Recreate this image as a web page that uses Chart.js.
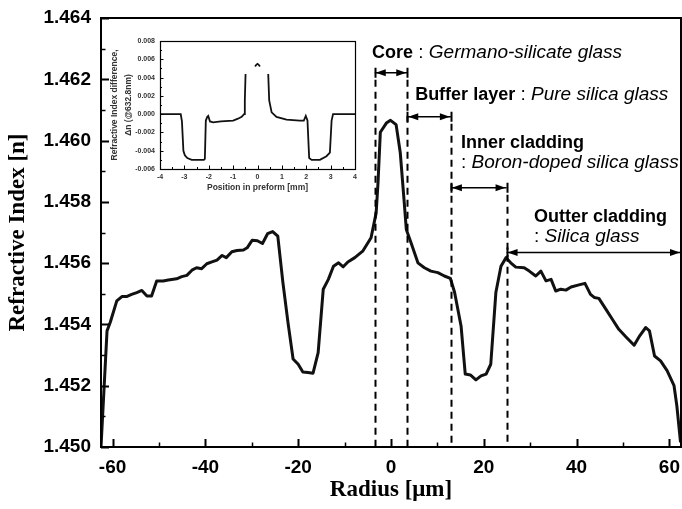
<!DOCTYPE html>
<html>
<head>
<meta charset="utf-8">
<script src="https://cdn.jsdelivr.net/npm/chart.js@4.4.1/dist/chart.umd.min.js"></script>
<style>
  html, body { margin: 0; padding: 0; background: #fff; }
  #wrap { position: relative; width: 682px; height: 509px; overflow: hidden; }
  #main { position: absolute; left: 0; top: 0; }
  #inset { position: absolute; left: 100px; top: 30px; }
</style>
</head>
<body>
<div id="wrap">
  <canvas id="main" width="682" height="509"></canvas>
  <canvas id="inset" width="262" height="166"></canvas>
</div>
<script>
// Refractive-index profile across the fibre (radius in µm)
const radius = [
  -62.5, -61.2, -60.5, -59.1, -58.0, -57.0, -55.9, -54.8, -53.7, -52.6, -51.6, -50.5,
  -49.1, -48.0, -46.2, -45.1, -44.0, -42.9, -41.9, -40.8, -39.7, -38.6, -37.5, -36.4,
  -35.5, -34.3, -33.2, -31.8, -31.0, -29.9, -28.8, -27.7, -26.6, -25.5, -24.4, -23.3,
  -22.2, -21.1, -20.0, -19.0, -17.9, -16.8, -15.7, -14.6, -13.5, -12.4, -11.3, -10.3,
  -9.3, -7.8, -6.1, -4.3, -3.2, -2.8, -2.3, -1.0, -0.1, 1.1, 2.0, 2.8, 3.3, 4.3, 5.8,
  7.2, 8.6, 10.1, 11.5, 12.8, 13.7, 15.1, 16.0, 17.1, 18.3, 19.4, 20.5, 21.5, 22.6,
  23.7, 24.8, 25.8, 26.9, 28.7, 29.8, 31.2, 32.3, 33.4, 34.5, 35.5, 36.6, 37.7, 38.8,
  40.5, 41.8, 43.0, 43.8, 44.8, 46.3, 47.7, 49.1, 50.6, 52.4, 53.6, 54.9, 55.7, 56.8,
  58.1, 59.5, 61.0, 61.6, 62.4
];
const refIndex = [
  1.4500, 1.45379, 1.45407, 1.45477, 1.45491, 1.45491, 1.45498, 1.45504, 1.45511, 1.45493, 1.45493, 1.45542,
  1.45542, 1.45545, 1.45549, 1.45556, 1.45560, 1.45577, 1.45585, 1.45582, 1.45598, 1.45604, 1.45610, 1.45625,
  1.45618, 1.45637, 1.45641, 1.45643, 1.45650, 1.45675, 1.45673, 1.45664, 1.45696, 1.45703, 1.45688, 1.45537,
  1.45406, 1.45287, 1.45270, 1.45245, 1.45243, 1.45241, 1.45308, 1.45515, 1.45547, 1.45590, 1.45601, 1.45588,
  1.45604, 1.45618, 1.45639, 1.45683, 1.45764, 1.45862, 1.46027, 1.46057, 1.46066, 1.46052, 1.45960, 1.45808, 1.45710, 1.45667, 1.45601,
  1.45585, 1.45574, 1.45569, 1.45558, 1.45550, 1.45505, 1.45395, 1.45238, 1.45235, 1.45219, 1.45232, 1.45238, 1.45270, 1.45504,
  1.45590, 1.45618, 1.45601, 1.45587, 1.45585, 1.45574, 1.45558, 1.45574, 1.45542, 1.45547, 1.45509, 1.45515, 1.45512, 1.45522,
  1.45529, 1.45534, 1.45498, 1.45488, 1.45485, 1.45450, 1.45417, 1.45384, 1.45360, 1.45332, 1.45363, 1.45390, 1.45379, 1.45297,
  1.45281, 1.45249, 1.45200, 1.45135, 1.45015
];
const radiusTicks = [-60, -40, -20, 0, 20, 40, 60];
const indexTicks = [1.450, 1.452, 1.454, 1.456, 1.458, 1.460, 1.462, 1.464];

// Fibre layers: boundaries in µm and their descriptions
const layerNames = ['Core', 'Buffer layer', 'Inner cladding', 'Outter cladding'];
const layerGlass = ['Germano-silicate glass', 'Pure silica glass', 'Boron-doped silica glass', 'Silica glass'];
const layerFrom = [-3.5, 3.5, 12.9, 24.9];
const layerTo = [3.5, 12.9, 24.9, 62.5];

// Preform index-difference profile (position in mm); null marks a break in the trace
const preformPos = [
  -4.0, -3.5, -3.15, -3.1, -3.04, -2.98, -2.88, -2.7, -2.4, -2.2, -2.16, -2.12, -2.06, -2.02, -1.95,
  -1.82, -1.5, -1.0, -0.8, -0.65, -0.55, -0.52, -0.49, -0.47,
  -0.1, -0.05, 0.0, 0.05, 0.1,
  0.42, 0.44, 0.48, 0.58, 0.78, 1.19, 1.73, 1.9, 1.98, 2.05, 2.12, 2.22, 2.56, 2.83, 2.97, 3.04, 3.1, 3.5, 4.0
];
const preformDn = [
  0.0000, 0.0000, 0.0000, -0.0008, -0.0040, -0.0045, -0.0048, -0.0050, -0.0050, -0.0050, -0.0049, -0.0007, -0.0003, -0.0002, -0.0008,
  -0.0009, -0.0008, -0.0007, -0.0005, -0.0003, 0.0000, 0.0015, 0.0044, null,
  0.0052, 0.0054, 0.0055, 0.0054, 0.0052,
  null, 0.0044, 0.0015, 0.0002, -0.0003, -0.0006, -0.0007, -0.0007, -0.0002, -0.0007, -0.0048, -0.0050, -0.0050, -0.0046, -0.0042, -0.0007, 0.0000, 0.0000, 0.0000
];
const preformPosTicks = [-4, -3, -2, -1, 0, 1, 2, 3, 4];
const preformDnTicks = [-0.006, -0.004, -0.002, 0.000, 0.002, 0.004, 0.006, 0.008];

const SANS = "'Liberation Sans', Arial, Helvetica, sans-serif";
const SERIF = "'Liberation Serif', 'Times New Roman', serif";

// Arrow levels and label anchors for the layer annotations (axis units)
const layerArrowLevel = [1.46221, 1.46078, 1.45846, 1.45635];
const layerTextAnchor = [
  { x: -4.1, y: 1.46270, twoLines: false },
  { x: 5.2, y: 1.46132, twoLines: false },
  { x: 15.1, y: 1.45976, twoLines: true },
  { x: 30.8, y: 1.45734, twoLines: true }
];

function drawTicks(ctx, scale, values, len, horizontal, area) {
  ctx.beginPath();
  values.forEach(v => {
    const p = Math.round(scale.getPixelForValue(v)) + 0.5;
    if (horizontal) {
      ctx.moveTo(p, area.bottom);
      ctx.lineTo(p, area.bottom - len);
    } else {
      ctx.moveTo(area.left, p);
      ctx.lineTo(area.left + len, p);
    }
  });
  ctx.stroke();
}

function halfSteps(ticks) {
  const out = [];
  for (let i = 0; i < ticks.length - 1; i++) out.push((ticks[i] + ticks[i + 1]) / 2);
  return out;
}

function arrowHead(ctx, x, y, dir) {
  ctx.beginPath();
  ctx.moveTo(x, y);
  ctx.lineTo(x - dir * 10, y - 3.5);
  ctx.lineTo(x - dir * 10, y + 3.5);
  ctx.closePath();
  ctx.fill();
}

function drawRuns(ctx, x, y, runs) {
  let cx = x;
  runs.forEach(r => {
    ctx.font = r.font;
    ctx.fillText(r.text, cx, y);
    cx += ctx.measureText(r.text).width;
  });
}

// keep the plot box fixed: no extra room for overhanging edge labels
function noEdgePadding(s) {
  s.paddingLeft = 0; s.paddingRight = 0; s.paddingTop = 0; s.paddingBottom = 0;
}

const mainDecor = {
  id: 'mainDecor',
  afterDraw(chart) {
    const { ctx, chartArea: a, scales: { x, y } } = chart;
    ctx.save();
    ctx.strokeStyle = '#000';
    ctx.fillStyle = '#000';

    // inward tick marks
    ctx.lineWidth = 2;
    drawTicks(ctx, x, radiusTicks, 8, true, a);
    drawTicks(ctx, y, indexTicks, 8, false, a);
    ctx.lineWidth = 1.5;
    drawTicks(ctx, x, halfSteps(radiusTicks), 4.5, true, a);
    drawTicks(ctx, y, halfSteps(indexTicks), 4.5, false, a);

    // layer boundaries (dashed) and span arrows
    const seen = new Set();
    layerFrom.forEach((from, i) => {
      const yA = y.getPixelForValue(layerArrowLevel[i]);
      const x1 = x.getPixelForValue(from);
      const x2 = Math.min(x.getPixelForValue(layerTo[i]), a.right);
      [from, layerTo[i]].forEach(b => {
        if (seen.has(b) || b >= layerTo[layerTo.length - 1]) return;
        seen.add(b);
        const px = Math.round(x.getPixelForValue(b)) + 0.5;
        ctx.save();
        ctx.lineWidth = 2;
        ctx.setLineDash([7, 5]);
        ctx.beginPath();
        ctx.moveTo(px, yA + 7);
        ctx.lineTo(px, a.bottom);
        ctx.stroke();
        ctx.restore();
      });
      ctx.lineWidth = 1.5;
      ctx.beginPath();
      ctx.moveTo(x1, yA);
      ctx.lineTo(x2, yA);
      ctx.stroke();
      ctx.lineWidth = 2;
      ctx.beginPath();
      ctx.moveTo(Math.round(x1) + 0.5, yA - 5);
      ctx.lineTo(Math.round(x1) + 0.5, yA + 5);
      if (i < layerFrom.length - 1) {
        ctx.moveTo(Math.round(x2) + 0.5, yA - 5);
        ctx.lineTo(Math.round(x2) + 0.5, yA + 5);
      }
      ctx.stroke();
      arrowHead(ctx, x1 + 1, yA, -1);
      arrowHead(ctx, x2 - 1, yA, 1);

      // labels
      const t = layerTextAnchor[i];
      const tx = x.getPixelForValue(t.x);
      const ty = y.getPixelForValue(t.y);
      ctx.textBaseline = 'alphabetic';
      ctx.textAlign = 'left';
      const bold = 'bold 18px ' + SANS;
      const reg = '19px ' + SANS;
      const ital = 'italic 19px ' + SANS;
      if (t.twoLines) {
        drawRuns(ctx, tx, ty, [{ text: layerNames[i], font: bold }]);
        drawRuns(ctx, tx, ty + 20, [{ text: ': ', font: reg }, { text: layerGlass[i], font: ital }]);
      } else {
        drawRuns(ctx, tx, ty, [
          { text: layerNames[i], font: bold },
          { text: ' : ', font: reg },
          { text: layerGlass[i], font: ital }
        ]);
      }
    });

    // frame
    ctx.lineWidth = 2;
    ctx.strokeRect(a.left, a.top, a.right - a.left, a.bottom - a.top);
    ctx.restore();
  }
};

new Chart(document.getElementById('main'), {
  type: 'scatter',
  data: {
    datasets: [{
      data: radius.map((r, i) => ({ x: r, y: refIndex[i] })),
      showLine: true,
      borderColor: '#111',
      borderWidth: 3,
      pointRadius: 0,
      tension: 0,
      borderJoinStyle: 'round'
    }]
  },
  options: {
    responsive: false,
    animation: false,
    devicePixelRatio: 1,
    layout: { padding: { left: 0, top: 18, right: 1, bottom: 0 } },
    plugins: { legend: { display: false }, tooltip: { enabled: false } },
    scales: {
      x: {
        type: 'linear', min: -62.5, max: 62.5,
        afterBuildTicks: s => { s.ticks = radiusTicks.map(v => ({ value: v })); },
        afterFit: s => { s.height = 62; noEdgePadding(s); },
        grid: { display: false, drawTicks: false },
        border: { display: false },
        ticks: { padding: 9, color: '#000', autoSkip: false, maxRotation: 0,
                 font: { family: SANS, size: 19, weight: 'bold' }, callback: v => String(v) },
        title: { display: true, text: 'Radius [\u03bcm]', color: '#000',
                 font: { family: SERIF, size: 23, weight: 'bold' }, padding: { top: 0, bottom: 5 } }
      },
      y: {
        type: 'linear', min: 1.450, max: 1.464,
        afterBuildTicks: s => { s.ticks = indexTicks.map(v => ({ value: v })); },
        afterFit: s => { s.width = 101; noEdgePadding(s); },
        grid: { display: false, drawTicks: false },
        border: { display: false },
        ticks: { padding: 10, color: '#000', autoSkip: false,
                 font: { family: SANS, size: 19, weight: 'bold' }, callback: v => Number(v).toFixed(3) },
        title: { display: true, text: 'Refractive Index [n]', color: '#000',
                 font: { family: SERIF, size: 23, weight: 'bold' }, padding: { top: 4, bottom: 0 } }
      }
    }
  },
  plugins: [mainDecor]
});

const insetDecor = {
  id: 'insetDecor',
  afterDraw(chart) {
    const { ctx, chartArea: a, scales: { x, y } } = chart;
    ctx.save();
    ctx.strokeStyle = '#000';
    ctx.lineWidth = 1;
    drawTicks(ctx, x, preformPosTicks, 3.5, true, a);
    drawTicks(ctx, y, preformDnTicks, 3.5, false, a);
    drawTicks(ctx, x, halfSteps(preformPosTicks), 2, true, a);
    drawTicks(ctx, y, halfSteps(preformDnTicks), 2, false, a);
    ctx.lineWidth = 1.2;
    ctx.strokeRect(Math.round(a.left) + 0.5, Math.round(a.top) + 0.5,
                   Math.round(a.right - a.left), Math.round(a.bottom - a.top));
    ctx.restore();
  }
};

new Chart(document.getElementById('inset'), {
  type: 'scatter',
  data: {
    datasets: [{
      data: preformPos.map((p, i) => ({ x: p, y: preformDn[i] })),
      showLine: true,
      spanGaps: false,
      borderColor: '#111',
      borderWidth: 1.8,
      pointRadius: 0,
      tension: 0
    }]
  },
  options: {
    responsive: false,
    animation: false,
    devicePixelRatio: 1,
    layout: { padding: { left: 0, top: 11, right: 7, bottom: 0 } },
    plugins: { legend: { display: false }, tooltip: { enabled: false } },
    scales: {
      x: {
        type: 'linear', min: -4, max: 4,
        afterBuildTicks: s => { s.ticks = preformPosTicks.map(v => ({ value: v })); },
        afterFit: s => { s.height = 27; noEdgePadding(s); },
        grid: { display: false, drawTicks: false },
        border: { display: false },
        ticks: { padding: 4, color: '#333', autoSkip: false, maxRotation: 0,
                 font: { family: SANS, size: 7, weight: 'bold' }, callback: v => String(v) },
        title: { display: true, text: 'Position in preform [mm]', color: '#333',
                 font: { family: SANS, size: 8.5, weight: 'bold' }, padding: { top: 0, bottom: 3 } }
      },
      y: {
        type: 'linear', min: -0.006, max: 0.008,
        afterBuildTicks: s => { s.ticks = preformDnTicks.map(v => ({ value: v })); },
        afterFit: s => { s.width = 60; noEdgePadding(s); },
        grid: { display: false, drawTicks: false },
        border: { display: false },
        ticks: { padding: 5, color: '#333', autoSkip: false,
                 font: { family: SANS, size: 7, weight: 'bold' }, callback: v => Number(v).toFixed(3) },
        title: { display: true, text: ['Refractive Index difference,', '\u0394n (@632.8nm)'], color: '#333',
                 font: { family: SANS, size: 8.5, weight: 'bold', lineHeight: 1.6 }, padding: { top: 8, bottom: 0 } }
      }
    }
  },
  plugins: [insetDecor]
});
</script>
</body>
</html>
